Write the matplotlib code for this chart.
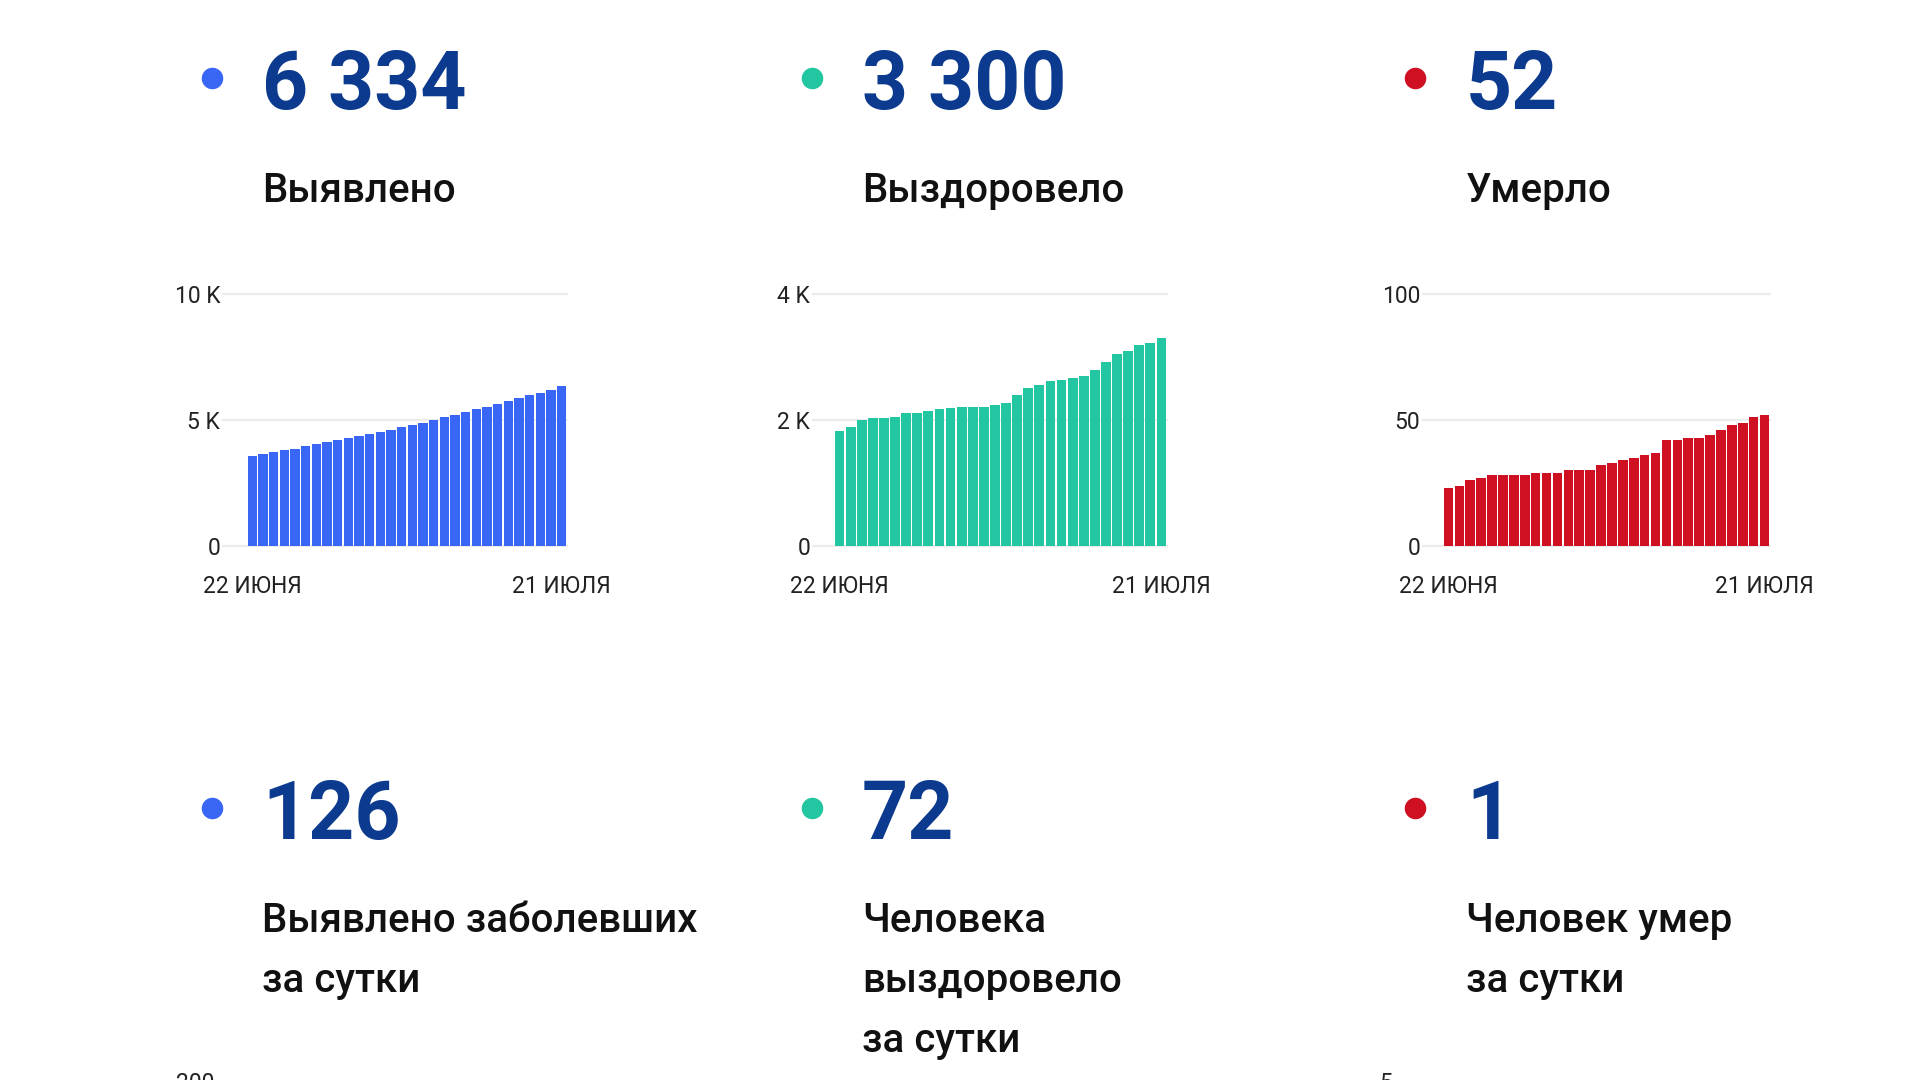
import numpy as np
import matplotlib.pyplot as plt

plt.rcParams['font.family'] = ['Roboto', 'DejaVu Sans']

# ------------------------------------------------------------------
#  data
# ------------------------------------------------------------------
date_labels = ['22 ИЮНЯ', '21 ИЮЛЯ']

detected = [3571, 3651, 3730, 3796, 3862, 3955, 4048, 4127, 4206, 4272,
            4365, 4458, 4537, 4616, 4709, 4802, 4894, 5000, 5106, 5198,
            5304, 5423, 5529, 5622, 5741, 5860, 5979, 6085, 6208, 6334]
recovered = [1825, 1884, 2000, 2032, 2032, 2053, 2106, 2116, 2148, 2169,
             2190, 2201, 2212, 2212, 2238, 2270, 2397, 2503, 2556, 2619,
             2635, 2667, 2698, 2794, 2926, 3042, 3095, 3190, 3228, 3300]
deaths = [23, 24, 26, 27, 28, 28, 28, 28, 29, 29,
          29, 30, 30, 30, 32, 33, 34, 35, 36, 37,
          42, 42, 43, 43, 44, 46, 48, 49, 51, 52]

totals = ['6 334', '3 300', '52']
titles = [['Выявлено'], ['Выздоровело'], ['Умерло']]
daily = ['126', '72', '1']
daily_titles = [['Выявлено заболевших', 'за сутки'],
                ['Человека', 'выздоровело', 'за сутки'],
                ['Человек умер', 'за сутки']]

yticks = [[0, 5000, 10000], [0, 2000, 4000], [0, 50, 100]]
yticklabels = [['0', '5 K', '10 K'], ['0', '2 K', '4 K'], ['0', '50', '100']]

colors = ['#3a66f6', '#22c6a0', '#cf1023']
num_color = '#0b3a8e'
txt_color = '#111111'

# ------------------------------------------------------------------
#  layout in pixels
# ------------------------------------------------------------------
W, H = 1920, 1080
fig = plt.figure(figsize=(W / 100, H / 100), dpi=100)
fig.patch.set_facecolor('white')

bg = fig.add_axes([0, 0, 1, 1])
bg.set_xlim(0, W)
bg.set_ylim(H, 0)
bg.axis('off')

col_dot = [212, 812, 1415]
col_txt = [262, 862, 1466]
line_step = 60

# headline numbers + titles
for i in range(3):
    for row, (num, lines) in enumerate([(totals[i], titles[i]), (daily[i], daily_titles[i])]):
        dy = row * 730
        bg.scatter(col_dot[i], 78 + dy, s=210, color=colors[i], zorder=3)
        bg.text(col_txt[i], 109 + dy, num, fontsize=58, fontweight='bold',
                color=num_color, va='baseline', ha='left')
        for k, line in enumerate(lines):
            bg.text(col_txt[i], 202 + dy + k * line_step, line, fontsize=29,
                    fontweight='medium', color=txt_color, va='baseline', ha='left')

# cut-off tick labels of the next row of charts
bg.text(214, 1072, '200', fontsize=16.5, color='#222222', ha='right', va='top')
bg.text(1392, 1072, '5', fontsize=16.5, color='#222222', ha='right', va='top')

# ------------------------------------------------------------------
#  small bar charts
# ------------------------------------------------------------------
series = [detected, recovered, deaths]
ax_px = [(223, 567, 247), (813, 1167, 834), (1423, 1770, 1443)]
top_px, zero_px = 294, 546

for i, (vals, (l, r, b0)) in enumerate(zip(series, ax_px)):
    n = len(vals)
    ax = fig.add_axes([l / W, 1 - zero_px / H, (r - l) / W, (zero_px - top_px) / H])
    slot = (r - b0) / n
    x = np.arange(n)
    ax.set_xlim(-0.5 - (b0 - l) / slot, n - 0.5)
    ax.set_ylim(yticks[i][0], yticks[i][-1])
    for yv in yticks[i]:
        ax.axhline(yv, color='#ececec', lw=1.6, zorder=0, clip_on=False)
    ax.bar(x, vals, width=0.88, color=colors[i], zorder=2)
    ax.set_yticks(yticks[i])
    ax.set_yticklabels(yticklabels[i], fontsize=16.5, color='#222222')
    ax.set_xticks([0, n - 1])
    ax.set_xticklabels(date_labels, fontsize=16.5, color='#222222')
    ax.tick_params(axis='both', length=0)
    ax.tick_params(axis='y', pad=2)
    ax.tick_params(axis='x', pad=21)
    for s in ax.spines.values():
        s.set_visible(False)
    ax.patch.set_alpha(0)

fig.savefig('out.png', dpi=100, facecolor='white')
